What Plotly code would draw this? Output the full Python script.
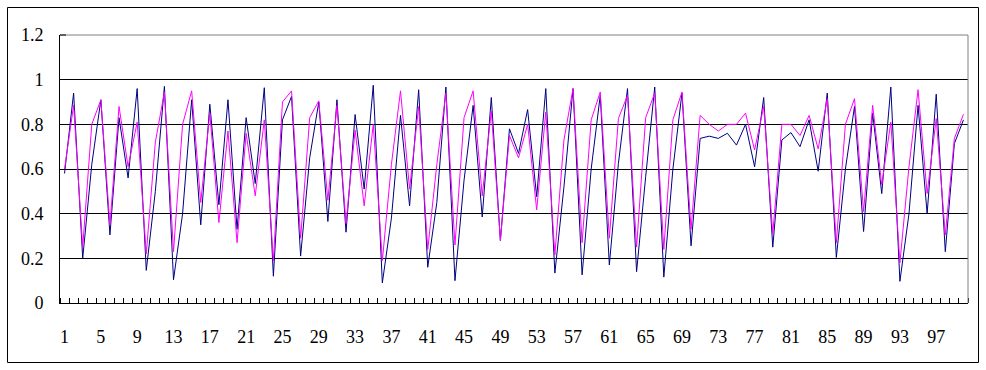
import plotly.graph_objects as go

categories = list(range(1, 101))
tick_labels = [str(i) for i in range(1, 101, 4)]

series_navy = [
    0.58, 0.94, 0.20, 0.62, 0.91, 0.305, 0.83, 0.56, 0.96, 0.146,
    0.50, 0.97, 0.104, 0.40, 0.91, 0.35, 0.89, 0.44, 0.91, 0.33,
    0.83, 0.535, 0.964, 0.12, 0.82, 0.925, 0.21, 0.65, 0.90, 0.365,
    0.91, 0.317, 0.844, 0.51, 0.975, 0.09, 0.38, 0.84, 0.435, 0.955,
    0.16, 0.45, 0.967, 0.10, 0.55, 0.885, 0.385, 0.92, 0.28, 0.78,
    0.67, 0.866, 0.476, 0.96, 0.134, 0.52, 0.96, 0.126, 0.60, 0.93,
    0.17, 0.625, 0.96, 0.14, 0.565, 0.967, 0.116, 0.60, 0.94, 0.256,
    0.737, 0.747, 0.737, 0.76, 0.707, 0.80, 0.61, 0.92, 0.25, 0.73,
    0.763, 0.70, 0.82, 0.59, 0.94, 0.204, 0.60, 0.88, 0.32, 0.85,
    0.49, 0.967, 0.097, 0.40, 0.885, 0.40, 0.935, 0.23, 0.714, 0.82,
]

series_magenta = [
    0.60, 0.885, 0.25, 0.80, 0.91, 0.35, 0.88, 0.61, 0.81, 0.22,
    0.72, 0.945, 0.23, 0.80, 0.95, 0.45, 0.85, 0.36, 0.77, 0.27,
    0.76, 0.48, 0.82, 0.19, 0.90, 0.95, 0.29, 0.83, 0.905, 0.46,
    0.885, 0.357, 0.774, 0.435, 0.80, 0.19, 0.62, 0.95, 0.51, 0.88,
    0.24, 0.62, 0.94, 0.26, 0.83, 0.95, 0.48, 0.86, 0.28, 0.75,
    0.65, 0.80, 0.417, 0.855, 0.216, 0.73, 0.96, 0.27, 0.82, 0.945,
    0.29, 0.826, 0.93, 0.25, 0.83, 0.94, 0.24, 0.82, 0.945, 0.33,
    0.84, 0.80, 0.77, 0.80, 0.80, 0.85, 0.685, 0.88, 0.31, 0.80,
    0.80, 0.75, 0.84, 0.69, 0.915, 0.27, 0.80, 0.915, 0.41, 0.885,
    0.53, 0.81, 0.18, 0.61, 0.955, 0.49, 0.826, 0.305, 0.737, 0.845,
]

FONT = "Liberation Serif"

fig = go.Figure()
fig.add_trace(go.Scatter(x=categories, y=series_navy, mode="lines",
                         line=dict(color="#000080", width=1), showlegend=False))
fig.add_trace(go.Scatter(x=categories, y=series_magenta, mode="lines",
                         line=dict(color="#FF00FF", width=1), showlegend=False))

W, H = 986, 370
L, T = 60, 35
PW, PH = 908, 268
fig.update_layout(
    width=W, height=H,
    margin=dict(l=L, r=W - L - PW, t=T, b=H - T - PH, autoexpand=False),
    paper_bgcolor="white", plot_bgcolor="white",
    font=dict(family=FONT, size=18, color="black"),
    showlegend=False,
)

fig.update_xaxes(
    range=[0.5, 100.5],
    tickmode="array",
    tickvals=list(range(1, 101, 4)),
    ticktext=tick_labels,
    ticks="",
    showgrid=False,
    zeroline=False,
    showline=True, linecolor="black", linewidth=1,
    ticklabelstandoff=17,
    tickfont=dict(family=FONT, size=18, color="black"),
    minor=dict(tickmode="linear", tick0=0.5, dtick=1, ticks="inside",
               ticklen=5, tickcolor="black", tickwidth=1, showgrid=False),
)

fig.update_yaxes(
    range=[0, 1.2],
    tickmode="linear", tick0=0, dtick=0.2,
    showgrid=True, gridcolor="black", gridwidth=1,
    zeroline=False,
    showline=True, linecolor="black", linewidth=1,
    ticks="inside", ticklen=6, tickcolor="black",
    ticklabelstandoff=12,
    tickfont=dict(family=FONT, size=18, color="black"),
)

# gray top/right plot border
fig.add_shape(type="line", xref="paper", yref="paper", x0=0, x1=1, y0=1, y1=1,
              line=dict(color="#808080", width=1))
fig.add_shape(type="line", xref="paper", yref="paper", x0=1, x1=1, y0=0, y1=1,
              line=dict(color="#808080", width=1))
fig.add_shape(type="line", xref="paper", yref="paper", x0=0, x1=6 / PW, y0=1, y1=1,
              line=dict(color="black", width=1))
# outer chart border (pixel-aligned)
fig.add_shape(type="rect", xref="paper", yref="paper",
              x0=(7.5 - L) / PW, x1=(978.5 - L) / PW,
              y0=(T + PH - 362.5) / PH, y1=(T + PH - 7.5) / PH,
              line=dict(color="black", width=1), fillcolor="rgba(0,0,0,0)")

fig.write_html("out.html", config={"displayModeBar": False, "staticPlot": True},
               post_script="document.body.style.margin='0px';")
